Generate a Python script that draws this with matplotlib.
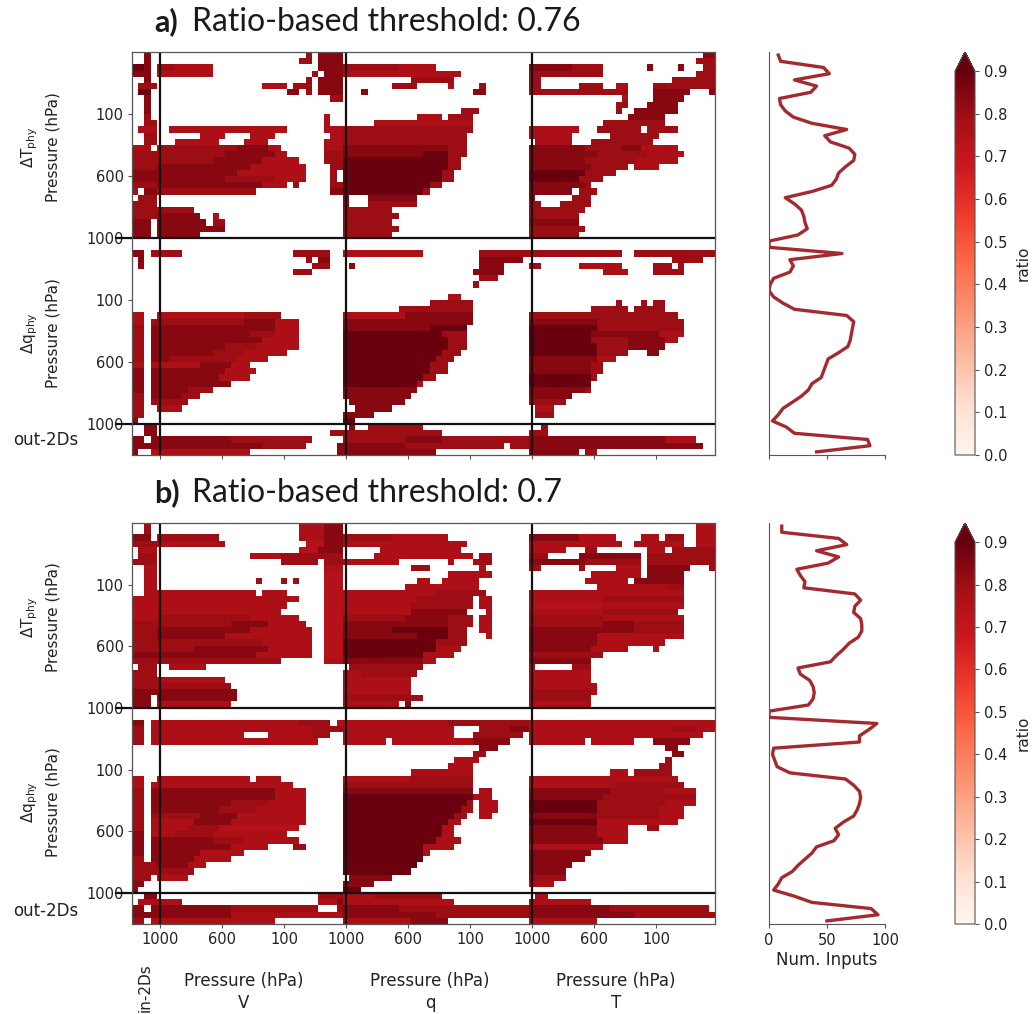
import numpy as np
import matplotlib
matplotlib.use("Agg")
import matplotlib.pyplot as plt

W, H = 1036, 1014
N_ROWS, N_COLS = 65, 94

LEVELS = {'a': 0.72, 'b': 0.74, 'c': 0.765, 'd': 0.80, 'e': 0.84, 'f': 0.89}

# Each row: "first-last+level" cell runs of the ratio matrix (row = output level, col = input level)
rows_a = [
 "2e 28d 30-33e 92-93e",
 "2e 27-28d 30-33e 91-93d",
 "0-1f 2e 4-6d 7-12c 30-33e 34-42d 43-48c 64-70e 71-75d 83e 88e 92-93d",
 "0-2e 4-12c 29d 31-33e 34-52c 64-75d 91-93d",
 "2e 28d 30-33e 45-51d 64-65d 87-93d",
 "1-3d 21-24c 26-28d 30-33e 42-45d 51c 56d 64-65d 72-75d 78-79c 84-93d",
 "1-2f 25-26e 28d 30-33e 37e 55-56e 64-79d 84-89e 93e",
 "2e 32-33d 79c 84-88e",
 "2e 78-79d 83-87e",
 "2e 53-55d 78d 81-87e",
 "2d 31c 46-49c 51-54d 80-85e",
 "2-3d 31c 39-54c 76-85d",
 "1-3c 6-24c 31-33c 34-54d 64-71c 75-81d 83-87d",
 "2-3d 11-14c 19-22c 32-33c 34-53d 64-70c 77-84d",
 "2-3d 7-13c 18-21c 31-33c 34-53d 65-70c 74-76d 77-83d",
 "0-2c 4-16d 17-21e 22-23c 31-33c 34-50e 51-53d 64-72e 73-78d 79-81e 82-87c",
 "0-3d 4-14d 15-22e 23-24c 31-33d 34-46e 47-50f 51-53d 64-74e 75-82d 83-88c",
 "0-3d 4-12d 13-20e 21-26c 31-33d 34-50f 51-52d 64-72e 73-80d 81-87c",
 "0-3d 4-18e 19-27c 32-33d 34-50f 51-52d 64-73e 74-79d 81-84c",
 "0-3e 4-16e 17-27c 32d 34-49f 50-51d 64-72f 73-77d",
 "0-3e 4-14e 15-22d 23-27c 32d 34-49f 50-51d 64-71f 72-75d",
 "0-3d 4-20e 21-24c 26d 32-33d 34-47f 48-49d 64-72e 73d",
 "0c 2-3e 4-19d 32-33e 34-46f 47d 64-70e 72-74d",
 "1-3d 34e 38-45e 64e 71-73d",
 "0-3d 34e 38-45d 64-65d 69-73d",
 "0-3d 4-9d 34-41d 64-72d",
 "0-3d 4-10e 13c 34-42d 64-71d",
 "0-2e 4-11e 13-14d 34-41d 64-71e",
 "0-2e 4-14e 34-42d 64-72d",
 "0-2e 4-10e 34-41d 64-71d",
 "",
 "",
 "0-1e 3-7d 26-31d 34-46c 56-63d 64-78d 81-93d",
 "1e 28d 30-31e 56-62e 87-91d",
 "1e 29-31d 35e 56-59e 64-65d 72-78c 84-86d 88d",
 "26-28d 55-59e 76-79c 84-88d",
 "56-58d",
 "55d",
 "",
 "51-52c",
 "48-54d 78d 82d 84-85d",
 "43-54d 74-79d 81-85d",
 "0-1c 4-17c 18-23d 34-43c 44-54e 64-87d",
 "0-1c 3-17d 18-22e 23-26c 34-54e 64-74e 75-88d",
 "0-1d 3-22e 23-26c 34-47e 48-53f 64-74f 75-88d",
 "0-1d 3-18e 19-22d 23-26c 34-49f 50-53d 64-73f 74-84e 85-88c",
 "0-1d 3-20e 21-26c 34-50f 51-53d 64-73f 74-79d 80-85e 86-87c",
 "0-1d 3-14e 15-19d 20-26c 34-50f 51-53d 64-74f 75-79d 80-85e",
 "0-1d 3-12e 13-17d 18-24c 34-49f 50-52d 64-74f 75-79d 83-84e",
 "0-1d 3-5e 6-16d 17-21c 34-48f 49-51d 64-74e 75-77c",
 "0-1c 3-10c 11-15e 16-18c 34-47f 48-50d 64-73e 74-75d",
 "0-1e 3-14e 15-19c 34-47f 48-50d 64-73e 74-75d",
 "0-1e 3-13e 14-18c 34-46f 47-48d 64-73f 74d",
 "0-1e 3-15e 34-45f 46c 64-73f",
 "0-1e 3-8e 9-12d 34-45e 64-72e 73d",
 "0-1d 3-7e 8-10d 34-44e 64-70e",
 "0-1d 3-8d 35-43e 64-69d",
 "0-1d 4-7c 36-41e 65-67c",
 "0-1d 34-38e 65-67d",
 "0e 34-35f",
 "2-3e 35e 38-46d 66d",
 "2-3e 32-35d 36-49d 64-66d",
 "0-1e 3-15e 16-28d 34-43d 44-49e 50-63d 64-85e 86-90c",
 "0-3e 4-20e 21-27d 33-43e 44-59d 61-63d 64-91e",
 "0e 3-18c 33-48e 64-71e 73-74d",
]

rows_b = [
 "2d 27-30c 31-33e 91-93c",
 "2d 27-30c 31-33e 91-93c",
 "0-2e 4-13d 27-30c 31-33e 34-41d 42-50c 64-71e 72-77c 82-84c 86-88d 91-93c",
 "0-3d 4-14c 28-30b 31-33e 34-53c 64-78c 81-88c 91-93c",
 "1-3c 27-29b 30-33e 40-52c 64-69c 73-74d 83-85c 87-93d",
 "1-3d 19-23c 24-33d 39-54c 56-57d 64-66d 72-81e 83-93d",
 "0-3d 24-29d 31-33d 34-42c 51c 55-57d 64-72e 73-81d 83-93d",
 "2-3c 31-33c 45-47d 56c 64-65d 72d 78-81c 83-89e 93d",
 "2-3c 31-33b 51-57c 74-81c 83-88e",
 "2-3c 20d 24d 26d 31-33b 46-47c 50-55c 73-79c 81-88e",
 "2-3c 31-33b 44-55c 75-85c 86-88d",
 "2-3c 4-19c 21-24c 31-33b 34-48c 49-56d 64-88c",
 "0-3c 4-26c 31-33b 34-45c 46-54d 56-57c 64-75c 76-88d",
 "0-3c 4-24c 31-33b 34-44c 45-54d 56-57c 64-75b 76-88c",
 "0-3c 4-23c 31-33b 34-44c 45-53e 57c 64-75c 76-87d",
 "0-3c 4-18d 19-26c 31-33b 34-43d 44-50e 51-54d 56-57c 64-75d 76-88c",
 "0-3d 4-15d 16-21e 22-27c 31-33b 34-42e 43-50e 51-54d 56-57c 64-75d 76-80e 81-88d",
 "0-3d 4-18e 19-28c 31-33b 34-41e 42-50f 51-53d 56-57c 64-80e 81-88d",
 "0-3d 4-14e 15-28c 31-33b 34-45e 46-50f 51-53d 57c 64-74e 75-88c",
 "0-3d 4-20d 21-28c 31-33b 34-48f 49-53d 64-74e 75-85c",
 "0-3d 4-9d 10-21e 22-28c 31-33b 34-48f 49-52c 64-73e 74-79c 84c",
 "0-3e 4-19e 20-28c 31-33b 34-46f 47-51c 64-75d",
 "0-3d 4-23d 31-33c 34-46e 47-48c 64-73e",
 "1-3d 6-11c 35-46d 64c 71-73d",
 "0-3d 34-36c 37-45d 64-73c",
 "0-3d 4-14c 34-44c 64-73c",
 "0-3d 4-15d 34-44c 64-74c",
 "0-3e 4-16e 34-44c 64-73d 74c",
 "0-2e 4-16e 34-44d 45-46d 64-73d",
 "0-2e 4-15c 34-42c 44e 64-73c",
 "",
 "",
 "0-1e 3-26c 27-31d 33-50c 51-63d 64-93c",
 "0-1d 3-28c 29-33d 34-51c 56-60d 61-63e 64-86c 87-90d 91-93c",
 "0-1d 3-17c 22-28c 29-31d 34-51c 55-62d 64-91c",
 "0-1d 3-29c 34-40c 42-54c 55-60e 64-72c 74-80c 84-89e",
 "56-58e 86-87e",
 "55-56d 87-88e",
 "52-55c 86d",
 "51-54c 85-86d",
 "45-54c 77-79c 81-86d",
 "0-1c 4-18c 20-23c 34-44c 45-54d 64-87c",
 "0-1c 3-25c 34-44d 45-54d 64-77c 78-88d",
 "0-1d 3-22e 23-27c 34-44e 45-54e 56-57c 64-76e 77-85d 86-90c",
 "0-1d 3-22e 23-27c 34-54f 55-57c 64-75e 76-90d",
 "0-1d 3-15e 16-21d 22-27c 34-53f 54d 56-58c 64-74f 75-85d 86-90c",
 "0-1d 3-13e 14-19d 20-27c 34-52f 53-54d 56-58c 64-74f 75-84d 85-88c",
 "0-1d 3-10d 11-16e 17-27c 34-51f 52-53d 56-57c 64-74e 75-84d 85-88c",
 "0-1d 3-9c 10-15e 16-27c 34-50f 51-52c 64-74f 75-87c",
 "0-1d 3-8c 9-13d 14-26b 34-49f 50-51c 64-74e 75-79c 83-84d",
 "0-1e 3-6c 7-12d 13-24c 34-49f 50-51c 64-74e 75-79c",
 "0-1e 3-12e 13-17d 18-26c 34-48f 49-52c 64-75e 76-79c",
 "0-1e 3-15e 16-21c 26-27d 34-46f 47-51c 64-75c",
 "0-1e 3-10e 11-17c 34-46f 47c 64-73e",
 "0-1d 3-9e 10-15c 34-46f 64-72e",
 "0-3d 4-8e 9-11c 34-45f 64-70e",
 "0-3d 4-9d 34-44f 64-69e",
 "0-2d 4-8c 35-41e 64-69d",
 "0-1e 34-38e 64-67c",
 "0e 34-36f",
 "2-3e 30-33d 34-38c 39-49d 65-66c",
 "1-7c 30-32c 33e 34-51c 64-73c",
 "0-1e 3-15e 16-29d 33d 34-42e 43-63d 64-76e 77-92d",
 "0-3e 4-15e 16-33c 34-48e 49-63d 64-80e 81-93d",
 "0-1d 3-22c 34-44c 45-50e 64-74c",
]

inputs_a = [8, 10, 47, 52, 22, 41, 36, 9, 10, 14, 21, 37, 67, 48, 53, 69, 74, 73, 66, 60,
            58, 54, 37, 14, 22, 28, 30, 31, 33, 25, 0, 0, 63, 18, 21, 18, 4, 1, 0, 4,
            12, 22, 67, 73, 72, 71, 70, 68, 60, 51, 49, 47, 45, 37, 34, 28, 20, 12, 8, 3,
            15, 22, 85, 87, 41]
inputs_b = [11, 11, 60, 67, 41, 60, 51, 24, 27, 31, 30, 74, 79, 74, 73, 79, 80, 80, 77, 69,
            64, 58, 53, 25, 27, 35, 38, 39, 38, 34, 0, 0, 93, 86, 78, 78, 4, 3, 5, 7,
            18, 66, 73, 78, 79, 78, 76, 73, 64, 57, 60, 56, 41, 37, 31, 25, 20, 11, 8, 4,
            22, 37, 88, 94, 50]

x_tick_labels = ['1000', '600', '100'] * 3
y_tick_labels = ['100', '600', '1000'] * 2
cbar_ticks = [0.0, 0.1, 0.2, 0.3, 0.4, 0.5, 0.6, 0.7, 0.8, 0.9]
input_labels = ['V', 'q', 'T']


def build(rows):
    m = np.full((N_ROWS, N_COLS), np.nan)
    for r, s in enumerate(rows):
        for tok in s.split():
            lev = LEVELS[tok[-1]]
            span = tok[:-1].split('-')
            a = int(span[0])
            b = int(span[-1])
            m[r, a:b + 1] = lev
    return m


def rect(l, t, r, b):
    return [l / W, 1 - b / H, (r - l) / W, (b - t) / H]


fig = plt.figure(figsize=(W / 100, H / 100), dpi=100)
cmap = plt.get_cmap('Reds')
GREY = '#555555'
TXT = '#222222'
FS = 10.5
FS_H = 12

panels = [
    (rows_a, inputs_a, 52, 455, 'a)', 'Ratio-based threshold: 0.76', 22, False),
    (rows_b, inputs_b, 523, 924, 'b)', 'Ratio-based threshold: 0.7', 493, True),
]

for rows, inputs, top, bot, tag, title, ty, last in panels:
    ax = fig.add_axes(rect(132, top, 715, bot))
    im = ax.imshow(build(rows), cmap=cmap, vmin=0, vmax=0.9, aspect='auto',
                   interpolation='nearest')
    for c in (4, 34, 64):
        ax.axvline(c, color='#111111', lw=1.6)
    for r in (29.5, 59.5):
        ax.plot([-3, N_COLS - 0.5], [r, r], color='#111111', lw=1.6, clip_on=False)
    ax.set_xlim(-0.5, N_COLS - 0.5)
    ax.set_ylim(N_ROWS - 0.5, -0.5)
    ax.set_xticks([4, 14, 24, 34, 44, 54, 64, 74, 84])
    ax.set_yticks([9.5, 19.5, 29.5, 39.5, 49.5, 59.5])
    ax.set_yticklabels(y_tick_labels, fontsize=FS, color=TXT)
    if last:
        ax.set_xticklabels(x_tick_labels, fontsize=FS, color=TXT)
    else:
        ax.set_xticklabels([])
    ax.tick_params(length=3, width=0.8, color=GREY, pad=3)
    for s in ax.spines.values():
        s.set_color(GREY)
        s.set_linewidth(0.9)

    h_scale = (bot - top) / 65
    for y_cen in (top + 15.3 * h_scale, top + 45.3 * h_scale):
        sym = r'$\Delta\mathrm{T}_{\mathrm{phy}}$' if y_cen < top + 30 * h_scale else r'$\Delta\mathrm{q}_{\mathrm{phy}}$'
        fig.text(30 / W, 1 - y_cen / H, sym, rotation=90, ha='center', va='center',
                 fontsize=FS + 0.5, color=TXT)
        fig.text(53 / W, 1 - y_cen / H, 'Pressure (hPa)', rotation=90, ha='center', va='center',
                 fontsize=FS + 0.5, color=TXT)
    fig.text(46 / W, 1 - (top + 388) / H, 'out-2Ds', ha='center', va='center',
             fontsize=FS_H, color=TXT)

    fig.text(154 / W, 1 - ty / H, tag, fontfamily='Lato', fontweight='bold', fontsize=22,
             ha='left', va='center', color='#1a1a1a')
    fig.text(192 / W, 1 - ty / H, title, fontfamily='Lato', fontsize=23,
             ha='left', va='center', color='#1a1a1a')

    # number-of-inputs profile
    lx = fig.add_axes(rect(769, top, 885, bot))
    lx.plot(inputs, np.arange(N_ROWS), color='#a52a2f', lw=2.4, solid_joinstyle='round')
    lx.set_xlim(0, 100)
    lx.set_ylim(N_ROWS - 0.5, -0.5)
    lx.set_yticks([])
    lx.set_xticks([0, 50, 100])
    lx.spines['top'].set_visible(False)
    lx.spines['right'].set_visible(False)
    lx.spines['left'].set_color(GREY)
    lx.spines['bottom'].set_color(GREY)
    lx.tick_params(length=3, width=0.8, color=GREY, labelsize=FS, labelcolor=TXT)
    if last:
        lx.set_xlabel('Num. Inputs', fontsize=FS_H, color=TXT, labelpad=2)
    else:
        lx.set_xticklabels([])

    # colour bar
    cax = fig.add_axes(rect(955, top, 975, bot))
    cb = fig.colorbar(im, cax=cax, extend='max', extendfrac=0.05, ticks=cbar_ticks)
    cb.ax.tick_params(labelsize=FS, length=3, width=0.8, color=GREY, labelcolor=TXT)
    cb.set_label('ratio', fontsize=FS + 0.5, color=TXT, labelpad=6)
    cb.outline.set_edgecolor(GREY)
    cb.outline.set_linewidth(0.8)

fig.text(145 / W, 1 - 988 / H, 'in-2Ds', rotation=90, ha='center', va='center',
         fontsize=FS + 0.5, color=TXT)
for name, xc in zip(input_labels, (244, 430, 616)):
    fig.text(xc / W, 1 - 981 / H, 'Pressure (hPa)', ha='center', va='center',
             fontsize=FS_H, color=TXT)
    fig.text(xc / W, 1 - 1003 / H, name, ha='center', va='center',
             fontsize=FS_H, color=TXT)

fig.savefig('out.png', dpi=100, facecolor='white')
